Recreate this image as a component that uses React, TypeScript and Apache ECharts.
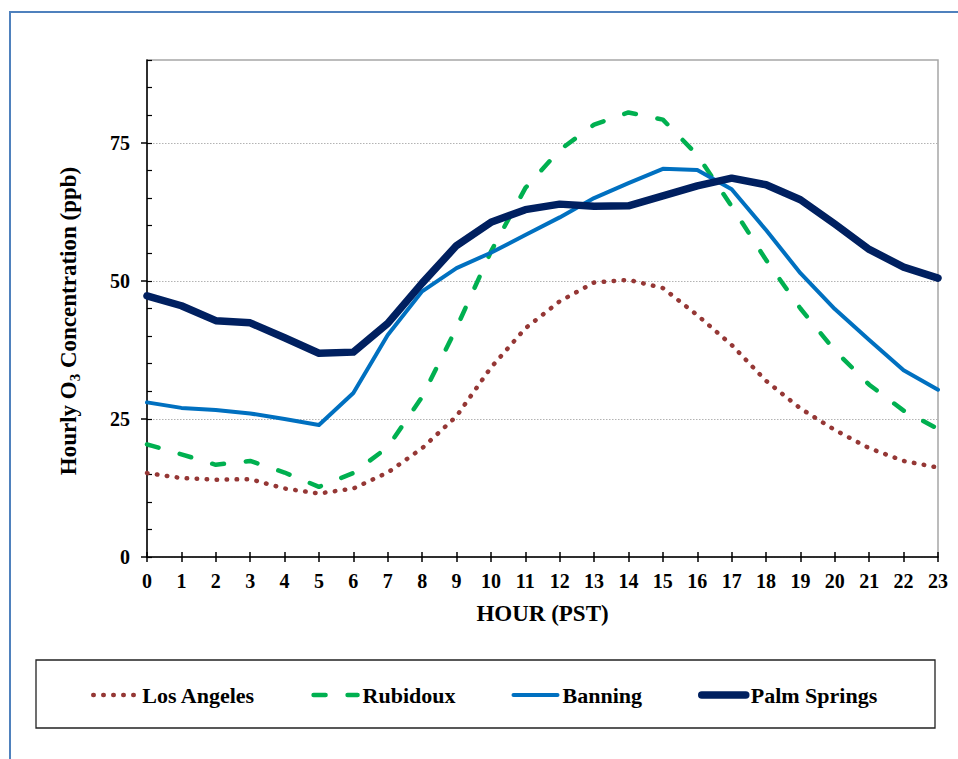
import React, { useEffect, useRef } from 'react';
import * as echarts from 'echarts';

const hours = ['0','1','2','3','4','5','6','7','8','9','10','11','12','13','14','15','16','17','18','19','20','21','22','23'];

const losAngeles = [15.2, 14.3, 14.0, 14.1, 12.4, 11.5, 12.4, 15.3, 19.7, 25.5, 34.3, 41.4, 46.3, 49.7, 50.2, 48.7, 43.8, 38.4, 31.9, 26.9, 23.0, 19.7, 17.4, 16.2];
const rubidoux = [20.4, 18.6, 16.7, 17.4, 15.3, 12.7, 15.2, 19.9, 29.0, 41.5, 55.3, 66.8, 73.7, 78.3, 80.5, 79.2, 72.8, 63.5, 53.8, 45.0, 37.4, 31.2, 26.5, 23.2];
const banning = [28.0, 27.0, 26.6, 26.0, 25.0, 23.9, 29.7, 40.2, 48.1, 52.3, 55.1, 58.3, 61.5, 65.0, 67.7, 70.3, 70.1, 66.6, 59.2, 51.4, 44.9, 39.3, 33.8, 30.3];
const palmSprings = [47.3, 45.5, 42.8, 42.4, 39.7, 36.9, 37.1, 42.3, 49.6, 56.4, 60.6, 62.9, 63.9, 63.5, 63.6, 65.4, 67.2, 68.6, 67.4, 64.7, 60.3, 55.7, 52.5, 50.5];

const yTickValues = [0, 25, 50, 75];
const seriesNames = ['Los Angeles', 'Rubidoux', 'Banning', 'Palm Springs'];

const FONT = '"Liberation Serif", "Times New Roman", serif';

const styles = [
  { color: '#953735', width: 4.5, type: [0.5, 9.5] as number[] | 'solid' },
  { color: '#00b050', width: 4.5, type: [12, 22] as number[] | 'solid' },
  { color: '#0070c0', width: 4, type: 'solid' as number[] | 'solid' },
  { color: '#002060', width: 7.5, type: 'solid' as number[] | 'solid' },
];
const seriesData = [losAngeles, rubidoux, banning, palmSprings];

export default function App() {
  const ref = useRef<HTMLDivElement>(null);

  useEffect(() => {
    const chart = echarts.init(ref.current as HTMLDivElement, null, { renderer: 'svg' });
    const gridPos = { left: 147, top: 60, right: 20, bottom: 202 };
    const labelStyle = { fontSize: 20, fontWeight: 'bold' as const, fontFamily: FONT, color: '#000' };
    chart.setOption({
      animation: false,
      backgroundColor: '#fff',
      grid: [
        { ...gridPos, show: true, borderColor: '#a6a6a6', borderWidth: 1.5, containLabel: false },
        { ...gridPos, show: false, containLabel: false },
      ],
      xAxis: [
        {
          type: 'category',
          gridIndex: 0,
          data: hours,
          boundaryGap: false,
          name: 'HOUR (PST)',
          nameLocation: 'middle',
          nameGap: 45,
          nameTextStyle: { fontSize: 23, fontWeight: 'bold', fontFamily: FONT, color: '#000' },
          axisLine: { show: true, lineStyle: { color: '#000', width: 1.5 } },
          axisTick: { show: true, interval: 0, length: 5, inside: false, lineStyle: { color: '#000', width: 1.5 } },
          axisLabel: { ...labelStyle, interval: 0, margin: 14 },
          splitLine: { show: false },
        },
        {
          type: 'category',
          gridIndex: 1,
          data: hours,
          boundaryGap: false,
          axisLine: { show: false },
          axisTick: { show: true, interval: 0, length: 5, inside: true, lineStyle: { color: '#000', width: 1.5 } },
          axisLabel: { show: false },
          splitLine: { show: false },
        },
      ],
      yAxis: [
        {
          type: 'value',
          gridIndex: 0,
          min: 0,
          max: 90,
          interval: 25,
          axisLine: { show: true, lineStyle: { color: '#000', width: 1.5 } },
          axisTick: { show: true, length: 6, inside: false, customValues: yTickValues, lineStyle: { color: '#000', width: 1.5 } },
          axisLabel: {
            ...labelStyle,
            margin: 17,
            customValues: yTickValues,
            formatter: (v: number) => (v === 90 ? '' : String(v)),
          },
          splitLine: { show: true, lineStyle: { color: '#b3b3b3', width: 1, type: [1.5, 1.5] } },
        },
        {
          type: 'value',
          gridIndex: 1,
          min: 0,
          max: 90,
          interval: 5,
          axisLine: { show: false },
          axisTick: { show: true, length: 5, inside: true, lineStyle: { color: '#000', width: 1.2 } },
          axisLabel: { show: false },
          splitLine: { show: false },
        },
      ],
      legend: {
        data: seriesNames.map((name, i) => ({
          name,
          lineStyle: { width: styles[i].width, type: styles[i].type, cap: 'round', color: styles[i].color },
        })),
        left: 91,
        top: 684,
        padding: 0,
        itemWidth: 44,
        itemHeight: 14,
        itemGap: 56,
        itemStyle: { opacity: 0 },
        textStyle: { fontSize: 22, fontWeight: 'bold', fontFamily: FONT, color: '#000' },
        selectedMode: false,
      },
      graphic: [
        {
          type: 'rect',
          shape: { x: 10, y: 12, width: 1000, height: 800 },
          style: { fill: 'none', stroke: '#4f81bd', lineWidth: 2 },
          silent: true,
        },
        {
          type: 'rect',
          shape: { x: 36, y: 660, width: 899, height: 68 },
          style: { fill: 'none', stroke: '#222', lineWidth: 1.3 },
          silent: true,
        },
        {
          type: 'text',
          x: 68,
          y: 321,
          rotation: Math.PI / 2,
          style: {
            text: '{a|Hourly O}{s|3}{a| Concentration (ppb)}',
            align: 'center',
            verticalAlign: 'middle',
            fill: '#000',
            rich: {
              a: { fontSize: 23, fontWeight: 'bold', fontFamily: FONT, fill: '#000', lineHeight: 28 },
              s: { fontSize: 15, fontWeight: 'bold', fontFamily: FONT, fill: '#000', lineHeight: 16, verticalAlign: 'bottom' },
            },
          },
          silent: true,
        },
      ],
      series: seriesNames.map((name, i) => ({
        name,
        type: 'line',
        xAxisIndex: 0,
        yAxisIndex: 0,
        data: seriesData[i],
        symbol: 'none',
        color: styles[i].color,
        lineStyle: { color: styles[i].color, width: styles[i].width, type: styles[i].type, cap: 'round', join: 'round' },
      })),
    });
    return () => chart.dispose();
  }, []);

  return (
    <div
      ref={ref}
      style={{ position: 'fixed', left: 0, top: 0, width: 958, height: 759, background: '#fff' }}
    />
  );
}
